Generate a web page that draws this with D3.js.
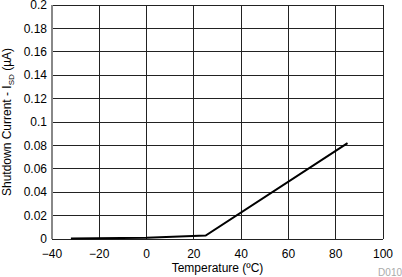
<!DOCTYPE html>
<html><head><meta charset="utf-8">
<script src="https://cdn.jsdelivr.net/npm/d3@7"></script>
<style>body{margin:0;background:#fff}svg{display:block;font-family:"Liberation Sans",Arial,sans-serif}</style>
</head><body>
<svg id="c" width="402" height="277"></svg>
<script>
const temps = [-32, 0, 25, 85];
const current = [0.0005, 0.001, 0.003, 0.082];
const xTicks = [-40, -20, 0, 20, 40, 60, 80, 100];
const yTicks = [0, 0.02, 0.04, 0.06, 0.08, 0.1, 0.12, 0.14, 0.16, 0.18, 0.2];

const svg = d3.select("#c");
const L = 52, R = 383, T = 5, B = 239;
const x = d3.scaleLinear().domain([-40, 100]).range([L, R]);
const y = d3.scaleLinear().domain([0, 0.2]).range([B, T]);

const g = svg.append("g");
g.selectAll(".vg").data(xTicks).enter().append("line")
  .attr("x1", d => x(d)).attr("x2", d => x(d)).attr("y1", T).attr("y2", B)
  .attr("stroke", "#222").attr("stroke-width", 1).attr("shape-rendering","crispEdges");
g.selectAll(".hg").data(yTicks).enter().append("line")
  .attr("x1", L).attr("x2", R).attr("y1", d => y(d)).attr("y2", d => y(d))
  .attr("stroke", "#222").attr("stroke-width", 1).attr("shape-rendering","crispEdges");
g.append("line").attr("x1", L).attr("x2", L).attr("y1", T).attr("y2", B)
  .attr("stroke", "#888").attr("stroke-width", 2);
g.append("line").attr("x1", L).attr("x2", R).attr("y1", B).attr("y2", B)
  .attr("stroke", "#222").attr("stroke-width", 1).attr("shape-rendering","crispEdges");

const line = d3.line().x((d, i) => x(temps[i])).y(d => y(d));
g.append("path").datum(current).attr("d", line)
  .attr("fill", "none").attr("stroke", "#000").attr("stroke-width", 2);

g.selectAll(".yt").data(yTicks).enter().append("text")
  .attr("x", L - 5).attr("y", d => y(d)).attr("dy", "0.35em")
  .attr("text-anchor", "end").attr("font-size", 12).attr("fill", "#000")
  .text(d => d3.format("")(+d.toFixed(2)));
g.selectAll(".xt").data(xTicks).enter().append("text")
  .attr("x", d => x(d)).attr("y", 258)
  .attr("text-anchor", "middle").attr("font-size", 12).attr("fill", "#000")
  .text(d => d < 0 ? "\u2212" + Math.abs(d) : d);

svg.append("text").attr("x", x(30)).attr("y", 272).attr("text-anchor", "middle")
  .attr("font-size", 12).text("Temperature (\u00BAC)");
const yl = svg.append("text").attr("transform", `translate(11,${(T + B) / 2}) rotate(-90)`)
  .attr("text-anchor", "middle").attr("font-size", 12);
yl.append("tspan").text("Shutdown Current - I");
yl.append("tspan").attr("font-size", 8).attr("dy", 3).text("SD");
yl.append("tspan").attr("dy", -3).text(" (\u00B5A)");
svg.append("text").attr("x", 402).attr("y", 276).attr("text-anchor", "end")
  .attr("font-size", 10).attr("fill", "#aaa").text("D010");
</script>
</body></html>
